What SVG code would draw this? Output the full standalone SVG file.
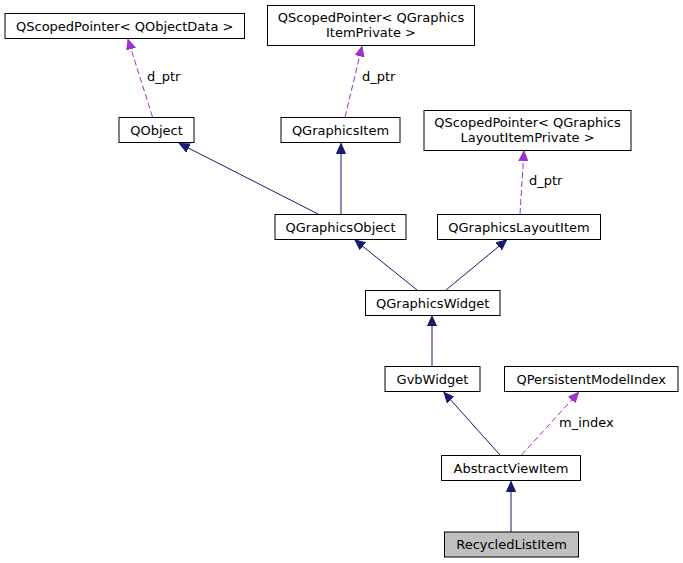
<svg xmlns="http://www.w3.org/2000/svg" width="683" height="563" viewBox="0 0 683 563">
<style>
  .box{fill:#ffffff;stroke:#000000;stroke-width:1}
  .sel{fill:#bfbfbf;stroke:#000000;stroke-width:1}
  text{font-family:"DejaVu Sans","Liberation Sans",sans-serif;font-size:13px;fill:#000000;text-anchor:middle}
  .lbl{text-anchor:start}
  .inh{stroke:#191970;stroke-width:1;fill:none}
  .use{stroke:#9a32cd;stroke-width:1;fill:none;stroke-dasharray:6,3}
</style>
<defs>
  <marker id="aN" markerUnits="userSpaceOnUse" viewBox="0 0 11 10" markerWidth="11" markerHeight="10" refX="10" refY="5" orient="auto">
    <path d="M0,0.5 L10,5 L0,9.5 z" fill="#191970" stroke="#191970" stroke-dasharray="none"/>
  </marker>
  <marker id="aP" markerUnits="userSpaceOnUse" viewBox="0 0 11 10" markerWidth="11" markerHeight="10" refX="10" refY="5" orient="auto">
    <path d="M0,0.5 L10,5 L0,9.5 z" fill="#9a32cd" stroke="#9a32cd" stroke-dasharray="none"/>
  </marker>
</defs>
<g id="edges">
  <path class="use" d="M152.5,117 L128,39.5" marker-end="url(#aP)"/>
  <text class="lbl" x="147" y="81">d_ptr</text>
  <path class="use" d="M345,117 L362,46.5" marker-end="url(#aP)"/>
  <text class="lbl" x="362" y="81">d_ptr</text>
  <path class="use" d="M520,214 L524,151" marker-end="url(#aP)"/>
  <text class="lbl" x="529" y="185">d_ptr</text>
  <path class="inh" d="M318,214 L179.5,143.5" marker-end="url(#aN)"/>
  <path class="inh" d="M341,214 L341,143.5" marker-end="url(#aN)"/>
  <path class="inh" d="M417,290 L355,240" marker-end="url(#aN)"/>
  <path class="inh" d="M446,290 L506.5,240" marker-end="url(#aN)"/>
  <path class="inh" d="M432,366 L432,316" marker-end="url(#aN)"/>
  <path class="inh" d="M500,455 L444,392.5" marker-end="url(#aN)"/>
  <path class="use" d="M521.5,455 L578.5,392.5" marker-end="url(#aP)"/>
  <text class="lbl" x="559" y="427">m_index</text>
  <path class="inh" d="M511,532 L511,481.5" marker-end="url(#aN)"/>
</g>
<g id="QScopedPointer_QObjectData">
  <rect class="box" x="5" y="13.5" width="239.5" height="25"/>
  <text x="124.7" y="30.5">QScopedPointer&lt; QObjectData &gt;</text>
</g>
<g id="QScopedPointer_QGraphicsItemPrivate">
  <rect class="box" x="267.5" y="5.5" width="207" height="40"/>
  <text x="371" y="22">QScopedPointer&lt; QGraphics</text>
  <text x="371" y="37">ItemPrivate &gt;</text>
</g>
<g id="QObject">
  <rect class="box" x="119" y="117.5" width="75" height="25"/>
  <text x="156.5" y="134.5">QObject</text>
</g>
<g id="QGraphicsItem">
  <rect class="box" x="281" y="117.5" width="119" height="25"/>
  <text x="340.5" y="134.5">QGraphicsItem</text>
</g>
<g id="QScopedPointer_QGraphicsLayoutItemPrivate">
  <rect class="box" x="424" y="110.5" width="207" height="40"/>
  <text x="527.5" y="127">QScopedPointer&lt; QGraphics</text>
  <text x="527.5" y="142">LayoutItemPrivate &gt;</text>
</g>
<g id="QGraphicsObject">
  <rect class="box" x="275" y="214.5" width="131" height="25"/>
  <text x="340.5" y="231.5">QGraphicsObject</text>
</g>
<g id="QGraphicsLayoutItem">
  <rect class="box" x="437.5" y="214.5" width="163" height="25"/>
  <text x="519" y="231.5">QGraphicsLayoutItem</text>
</g>
<g id="QGraphicsWidget">
  <rect class="box" x="365.5" y="290.5" width="134.5" height="25"/>
  <text x="432.7" y="307.5">QGraphicsWidget</text>
</g>
<g id="GvbWidget">
  <rect class="box" x="385" y="366.5" width="95" height="25"/>
  <text x="432.5" y="383.5">GvbWidget</text>
</g>
<g id="QPersistentModelIndex">
  <rect class="box" x="504.5" y="366.5" width="173.5" height="25"/>
  <text x="591.2" y="383.5">QPersistentModelIndex</text>
</g>
<g id="AbstractViewItem">
  <rect class="box" x="441.5" y="455.5" width="139" height="25"/>
  <text x="511" y="472.5">AbstractViewItem</text>
</g>
<g id="RecycledListItem">
  <rect class="sel" x="444.5" y="532" width="134" height="25"/>
  <text x="511.5" y="549">RecycledListItem</text>
</g>
</svg>
